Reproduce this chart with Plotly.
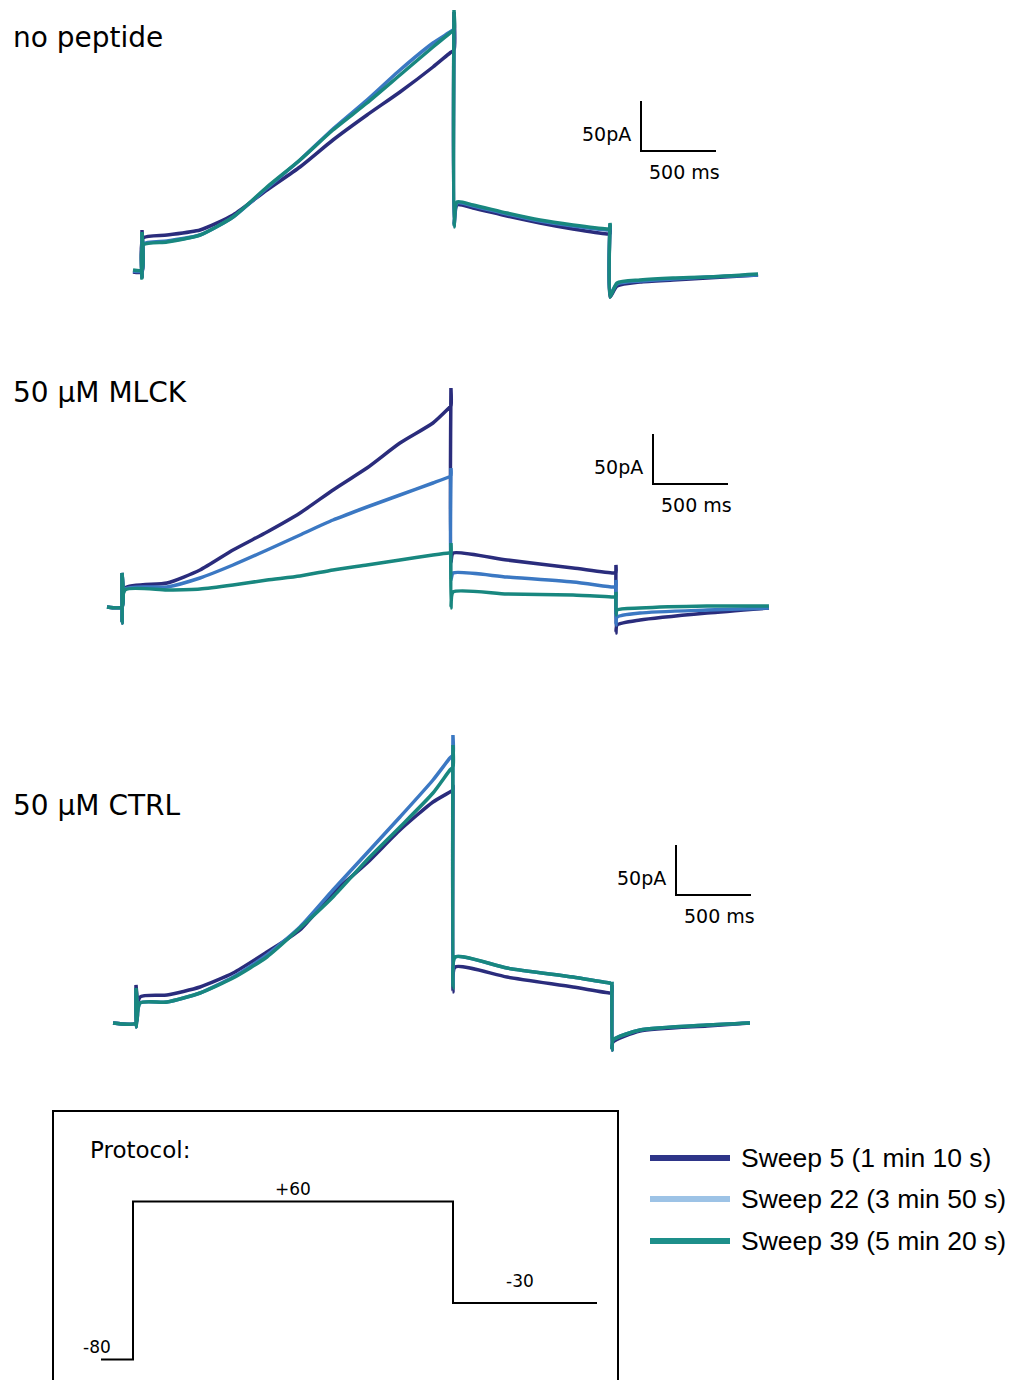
import plotly.graph_objects as go

# ---------------- data ----------------
SWEEPS = ["Sweep 5 (1 min 10 s)", "Sweep 22 (3 min 50 s)", "Sweep 39 (5 min 20 s)"]
PANEL_TITLES = ["no peptide", "50 \u03bcM MLCK", "50 \u03bcM CTRL"]

# time in ms (relative to the +60 mV step), current in pA (relative to holding)
T_NOPEP = [-60, 0, 0, 0, 7, 167, 387, 607, 833, 1053, 1273, 1500, 1720, 1940, 2053,
           2080, 2080, 2080, 2100, 2207, 2433, 2653, 2873, 3100,
           3120, 3120, 3120, 3167, 3320, 3540, 3767, 4107]
I_NOPEP_S5 = [0, 0, 42, -5, 34, 37, 42, 57, 82, 105, 132, 157, 180, 205, 219,
              222, 260, 47, 67, 64, 56, 49, 43, 38,
              38, 47, -25, -14, -10, -8, -6, -3]
I_NOPEP_S22 = [1, 1, 38, -4, 28, 31, 37, 55, 84, 112, 143, 172, 202, 229, 240,
               243, 250, 46, 69, 66, 58, 51, 46, 42,
               42, 48, -22, -12, -9, -7, -5, -3]
I_NOPEP_S39 = [2, 2, 40, -6, 27, 30, 37, 55, 85, 112, 142, 169, 197, 225, 239,
               242, 262, 45, 70, 67, 59, 52, 47, 43,
               43, 49, -25, -11, -8, -6, -5, -2]

T_MLCK = [-100, 0, 0, 0, 20, 300, 520, 740, 967, 1187, 1407, 1633, 1853, 2073, 2180,
          2193, 2193, 2193, 2207, 2567, 3007, 3273,
          3293, 3293, 3293, 3300, 3453, 3900, 4313]
I_MLCK_S5 = [0, 0, 34, -16, 19, 24, 37, 57, 75, 94, 117, 139, 164, 184, 199,
             201, 219, 45, 54, 47, 39, 34,
             34, 42, -26, -18, -13, -6, -1]
I_MLCK_S22 = [0, 0, 34, -16, 18, 20, 29, 42, 57, 72, 87, 100, 112, 124, 130,
              131, 139, 27, 34, 30, 25, 20,
              20, 27, -18, -10, -6, -3, -1]
I_MLCK_S39 = [0, 0, 34, -16, 17, 17, 18, 22, 27, 31, 37, 42, 47, 52, 54,
              54, 64, -1, 15, 13, 12, 10,
              10, 15, -8, -3, -1, 1, 1]

T_CTRL = [-153, 0, 0, 0, 27, 207, 427, 647, 873, 1093, 1313, 1540, 1760, 1980, 2093,
          2113, 2113, 2113, 2127, 2473, 2913, 3160,
          3173, 3173, 3173, 3180, 3360, 3807, 4093]
I_CTRL_S5 = [0, 0, 38, -4, 26, 28, 36, 50, 71, 93, 130, 160, 193, 221, 231,
             233, 238, 31, 56, 46, 36, 30,
             30, 38, -27, -19, -8, -3, 0]
I_CTRL_S22 = [0, 0, 33, -4, 20, 21, 30, 46, 68, 96, 133, 170, 206, 243, 265,
              268, 288, 38, 66, 55, 46, 40,
              40, 41, -27, -17, -7, -2, 0]
I_CTRL_S39 = [0, 0, 35, -4, 20, 21, 30, 45, 66, 95, 126, 163, 196, 230, 253,
              256, 278, 35, 66, 55, 46, 40,
              40, 41, -27, -17, -7, -2, 0]

SCALE_T_MS = 500
SCALE_I_PA = 50
SCALE_LABELS = ["50pA", "500 ms"]

PROT_T = [-200, 0, 0, 2000, 2000, 2900]
PROT_V = [-80, -80, 60, 60, -30, -30]
PROT_LABELS = [("+60", 1000, 60), ("-30", 2420, -30), ("-80", -225, -80)]

# ---------------- styles / layout ----------------
W, H = 1011, 1380
PX_PER_MS = 0.15
PX_PER_PA = 1.0
TRACE_COLORS = ["#2a2c7c", "#3b78c3", "#18877f"]
LEGEND_COLORS = ["#2e3588", "#9dc3e6", "#1d8f8a"]
TITLE_FONT = dict(family="DejaVu Sans", size=28, color="black")
SMALL_FONT = dict(family="DejaVu Sans", size=19, color="black")
PROT_FONT = dict(family="DejaVu Sans", size=17, color="black")
LEG_FONT = dict(family="Liberation Sans, Arial", size=26.5, color="black")

panels = [
    dict(t=T_NOPEP, I=[I_NOPEP_S5, I_NOPEP_S22, I_NOPEP_S39],
         onset_px=142, zero_px=272, band=(0, 335), bar_px=(641, 151), title_y=37),
    dict(t=T_MLCK, I=[I_MLCK_S5, I_MLCK_S22, I_MLCK_S39],
         onset_px=122, zero_px=607, band=(340, 690), bar_px=(653, 484), title_y=392),
    dict(t=T_CTRL, I=[I_CTRL_S5, I_CTRL_S22, I_CTRL_S39],
         onset_px=136, zero_px=1023, band=(695, 1090), bar_px=(676, 895), title_y=805),
]

fig = go.Figure()
shapes = []
annotations = []
layout_axes = {}

for k, p in enumerate(panels):
    sfx = "" if k == 0 else str(k + 1)
    xa, ya = "x" + sfx, "y" + sfx
    for s in range(3):
        fig.add_trace(go.Scatter(x=p["t"], y=p["I"][s], mode="lines", name=SWEEPS[s],
                                 line=dict(color=TRACE_COLORS[s], width=3.5, shape="spline",
                                           smoothing=0.6),
                                 xaxis=xa, yaxis=ya, showlegend=False, hoverinfo="skip"))
    onset, zero = p["onset_px"], p["zero_px"]
    b0, b1 = p["band"]
    layout_axes["xaxis" + sfx] = dict(domain=[0, 1], range=[-onset / PX_PER_MS, (W - onset) / PX_PER_MS],
                                      visible=False, fixedrange=True, anchor=ya)
    layout_axes["yaxis" + sfx] = dict(domain=[1 - b1 / H, 1 - b0 / H],
                                      range=[(zero - b1) / PX_PER_PA, (zero - b0) / PX_PER_PA],
                                      visible=False, fixedrange=True, anchor=xa)
    # scale bar
    bt = (p["bar_px"][0] - onset) / PX_PER_MS
    bi = (zero - p["bar_px"][1]) / PX_PER_PA
    shapes.append(dict(type="path", xref=xa, yref=ya,
                       path=f"M {bt},{bi + SCALE_I_PA} L {bt},{bi} L {bt + SCALE_T_MS},{bi}",
                       line=dict(color="black", width=2)))
    annotations.append(dict(x=bt, y=bi + 17, xref=xa, yref=ya, text=SCALE_LABELS[0],
                            showarrow=False, xanchor="right", yanchor="middle", xshift=-8,
                            font=SMALL_FONT))
    annotations.append(dict(x=bt + SCALE_T_MS / 2, y=bi, xref=xa, yref=ya, text=SCALE_LABELS[1],
                            showarrow=False, xanchor="center", yanchor="top", xshift=6, yshift=-8,
                            font=SMALL_FONT))
    annotations.append(dict(x=11 / W, y=1 - p["title_y"] / H, xref="paper", yref="paper",
                            text=PANEL_TITLES[k], showarrow=False, xanchor="left",
                            yanchor="middle", font=TITLE_FONT))

# protocol panel
P_ONSET_PX = 133
P_PX_PER_MS = 0.16
P_A, P_B = 1269.2, 1.1274  # pixel = P_A - P_B * mV
pb0, pb1 = 1095, 1380
fig.add_trace(go.Scatter(x=PROT_T, y=PROT_V, mode="lines", line=dict(color="black", width=2),
                         xaxis="x4", yaxis="y4", showlegend=False, hoverinfo="skip"))
layout_axes["xaxis4"] = dict(domain=[0, 1], range=[-P_ONSET_PX / P_PX_PER_MS, (W - P_ONSET_PX) / P_PX_PER_MS],
                             visible=False, fixedrange=True, anchor="y4")
layout_axes["yaxis4"] = dict(domain=[0, 1 - pb0 / H], range=[(P_A - pb1) / P_B, (P_A - pb0) / P_B],
                             visible=False, fixedrange=True, anchor="x4")
label_shift = {"+60": 13, "-30": 22, "-80": 12}
for txt, t, v in PROT_LABELS:
    annotations.append(dict(x=t, y=v, xref="x4", yref="y4", text=txt, showarrow=False,
                            xanchor="center", yanchor="middle", yshift=label_shift[txt], font=PROT_FONT))
annotations.append(dict(x=88 / W, y=1 - 1150 / H, xref="paper", yref="paper", text="Protocol:",
                        showarrow=False, xanchor="left", yanchor="middle",
                        font=dict(family="DejaVu Sans", size=23, color="black")))
shapes.append(dict(type="rect", xref="paper", yref="paper", x0=53 / W, x1=618 / W,
                   y0=-0.02, y1=1 - 1111 / H, line=dict(color="black", width=2)))

# legend (manual)
leg_rows = [1158, 1199, 1241]
for s in range(3):
    yy = 1 - leg_rows[s] / H
    shapes.append(dict(type="line", xref="paper", yref="paper", x0=650 / W, x1=730 / W, y0=yy, y1=yy,
                       line=dict(color=LEGEND_COLORS[s], width=6)))
    annotations.append(dict(x=739 / W, y=yy, xref="paper", yref="paper", text=SWEEPS[s],
                            showarrow=False, xanchor="left", yanchor="middle", font=LEG_FONT))

fig.update_layout(width=W, height=H, margin=dict(l=0, r=0, t=0, b=0),
                  paper_bgcolor="white", plot_bgcolor="white", showlegend=False,
                  hovermode=False, shapes=shapes, annotations=annotations, **layout_axes)

fig.write_html("out.html")
